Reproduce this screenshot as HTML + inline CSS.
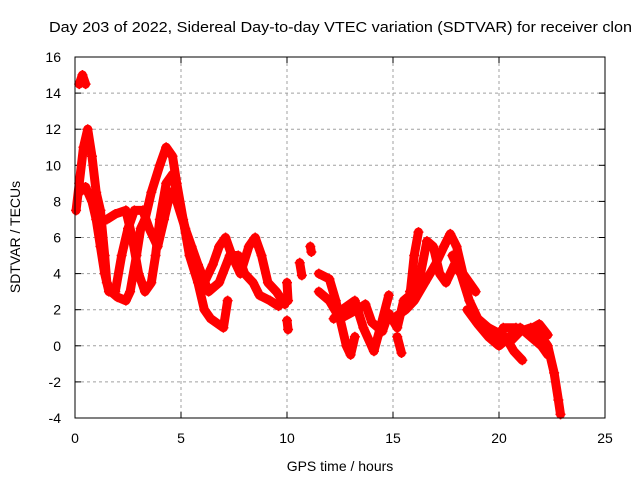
<!DOCTYPE html>
<html><head><meta charset="utf-8"><style>
body{margin:0;background:#fff}
svg{display:block;font-family:"Liberation Sans",sans-serif;font-size:14px}
</style></head><body>
<svg id="c" width="640" height="480">
<text x="49" y="32" font-size="15" textLength="583" lengthAdjust="spacingAndGlyphs">Day 203 of 2022, Sidereal Day-to-day VTEC variation (SDTVAR) for receiver clon</text>
<text x="340" y="471" text-anchor="middle">GPS time / hours</text>
<text transform="translate(20,237) rotate(-90)" text-anchor="middle">SDTVAR / TECUs</text>
<g id="grid"></g><g id="marks"></g>
<rect x="75" y="57" width="530" height="361" fill="none" stroke="#000"/>
</svg>
<script>
const xTicks=[0,5,10,15,20,25];
const yTicks=[-4,-2,0,2,4,6,8,10,12,14,16];
const track0=[[0.2,14.5],[0.35,15],[0.5,14.5]];
const track1=[[0.05,7.5],[0.2,9],[0.4,11],[0.6,12],[0.8,10.5],[1.0,8.5],[1.2,7.5],[1.4,5],[1.5,3.5],[1.7,3],[2.0,2.7],[2.4,2.5],[2.6,3],[2.9,5],[3.1,6.5],[3.3,7],[3.6,8.5],[4.0,10],[4.3,11],[4.6,10.5],[4.8,9],[5.1,7],[5.4,5],[5.8,3.5],[6.1,2],[6.4,1.5],[7.0,1],[7.2,2.5]];
const track2=[[0.2,8.5],[0.5,8.8],[0.8,8],[1.0,7],[1.2,5.5],[1.4,4],[1.6,3],[1.9,3],[2.2,5],[2.5,6.5],[2.8,7.5],[3.2,7.5],[3.5,6.5],[3.9,5.5],[4.2,7],[4.5,8.5],[4.8,8],[5.2,6.5],[5.5,5.5],[5.8,4.5],[6.3,3],[6.8,3.5],[7.3,5],[7.7,5],[8.0,4],[8.4,3.5],[8.7,2.8],[9.2,2.5],[9.6,2.2]];
const track3=[[1.5,7],[1.9,7.3],[2.4,7.5],[2.7,6],[3.0,4],[3.3,3],[3.6,3.5],[3.8,5],[4.0,7],[4.3,9],[4.6,9.5],[4.9,8],[5.3,6],[5.7,4],[6.1,3.5],[6.5,4.5],[6.8,5.5],[7.1,6],[7.4,5],[7.8,4],[8.2,5.5],[8.5,6],[8.8,5],[9.1,3.5],[9.5,3],[9.9,2.3]];
const track4=[[10,3.5],[10.05,2.5]];
const track4b=[[10,1.4],[10.05,0.9]];
const track4c=[[10.6,4.6],[10.7,3.9]];
const track4d=[[11.1,5.5],[11.15,5.2]];
const track5=[[11.5,4],[12,3.7],[12.3,2.5],[12.5,1.5],[12.8,0],[13,-0.5],[13.2,0.5]];
const track6=[[11.5,3],[12,2.5],[12.5,1.5],[13.3,2],[13.7,2.3],[14,1.3],[14.5,0.8],[14.8,1.8],[15.2,1],[15.5,2.5],[15.8,2.8],[16,5],[16.2,6.3]];
const track7=[[12.2,1.5],[12.6,2],[13.2,2.5],[13.6,1],[14.1,-0.3],[14.4,1],[14.8,2.8]];
const track7b=[[15.2,0.5],[15.4,-0.4]];
const track8=[[15,1.5],[15.6,2],[16,2.5],[16.5,3.5],[17,4.5],[17.4,5.5],[17.7,6.2],[18,5.5],[18.3,4],[18.6,3.5],[18.9,3]];
const track9=[[15.8,3],[16.3,4],[16.6,5.8],[16.9,5.5],[17.2,4],[17.5,3.5],[17.9,4.5],[18.2,4],[18.5,3.5]];
const track10=[[17.8,5],[18.2,4],[18.6,2.5],[19,1.5],[19.5,1],[20,0.5],[20.5,0.2],[21,0.8],[21.5,1],[22,0.5],[22.3,0],[22.6,-1.5],[22.8,-3],[22.9,-3.8]];
const track11=[[18.5,2],[19,1.2],[19.5,0.5],[20,0],[20.5,0.5],[21,1],[21.5,0.5],[22,0],[22.3,-0.5]];
const track12=[[19.5,1],[20.3,0.5],[20.7,-0.3],[21.1,-0.8]];
const track13=[[20.2,1],[20.8,1],[21.3,0.8],[21.9,1.2],[22.3,0.6]];
const tracks=[track0,track1,track2,track3,track4,track4b,track4c,track4d,track5,track6,track7,track7b,track8,track9,track10,track11,track12,track13];
const X=h=>75+h*530/25;
const Y=v=>418-(v+4)*361/20;
const NS="http://www.w3.org/2000/svg";
const grid=document.getElementById('grid'),marks=document.getElementById('marks');
function mk(tag,attrs,parent){const e=document.createElementNS(NS,tag);for(const k in attrs)e.setAttribute(k,attrs[k]);parent.appendChild(e);return e;}
xTicks.forEach(t=>{const x=X(t);
 if(t>0&&t<25){const g=mk('line',{x1:x,x2:x,y1:57,y2:418,stroke:'#a0a0a0','stroke-dasharray':'3,3'},grid);
 
 }
 mk('line',{x1:x,x2:x,y1:418,y2:412,stroke:'#000'},grid);
 mk('line',{x1:x,x2:x,y1:57,y2:63,stroke:'#000'},grid);
 const l=mk('text',{x:x,y:443,'text-anchor':'middle'},grid);l.textContent=t;
 
 });
yTicks.forEach(t=>{const y=Y(t);
 if(t>-4&&t<16){const g=mk('line',{x1:75,x2:605,y1:y,y2:y,stroke:'#a0a0a0','stroke-dasharray':'3,3'},grid);
 
 }
 mk('line',{x1:75,x2:81,y1:y,y2:y,stroke:'#000'},grid);
 mk('line',{x1:605,x2:599,y1:y,y2:y,stroke:'#000'},grid);
 const l=mk('text',{x:61,y:y+5,'text-anchor':'end'},grid);l.textContent=t;
 
 });
tracks.forEach((tr,i)=>{
 const p=mk('polyline',{points:tr.map(d=>X(d[0])+','+Y(d[1])).join(' '),fill:'none',stroke:'#ff0000','stroke-width':9,'stroke-linejoin':'round','stroke-linecap':'round'},marks);
 
 
 tr.forEach(d=>{const x=X(d[0]),y=Y(d[1]);
  const m=mk('path',{d:`M${x-5},${y}h10M${x},${y-5}v10`,stroke:'#ff0000','stroke-width':1.5},marks);
  
  });
});
</script>
</body></html>
